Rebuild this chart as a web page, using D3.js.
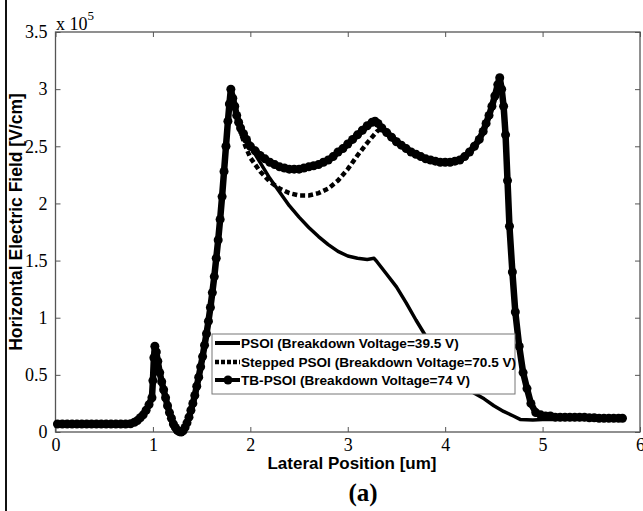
<!DOCTYPE html>
<html>
<head>
<meta charset="utf-8">
<script src="https://cdn.jsdelivr.net/npm/d3@7/dist/d3.min.js"></script>
<style>
  body { margin: 0; background: #fff; }
  svg { display: block; }
  .tick text { font-family: "Liberation Serif", "Times New Roman", serif; font-size: 18px; fill: #000; }
  .tick line { stroke: #555; }
</style>
</head>
<body>
<div id="chart"></div>
<script>
'use strict';

/* data, values in units of 1e5 V/cm */

var xTicks = [0, 1, 2, 3, 4, 5, 6];
var yTicks = [0, 0.5, 1, 1.5, 2, 2.5, 3, 3.5];

var seriesNames = [
  'PSOI (Breakdown Voltage=39.5 V)',
  'Stepped PSOI (Breakdown Voltage=70.5 V)',
  'TB-PSOI (Breakdown Voltage=74 V)'
];

// shared by all three devices up to the first big peak
var commonRise = [
  [0.02, 0.07], [0.07, 0.07], [0.12, 0.07], [0.17, 0.07], [0.22, 0.07], [0.27, 0.07],
  [0.32, 0.07], [0.37, 0.07], [0.42, 0.07], [0.47, 0.07], [0.52, 0.07], [0.57, 0.07],
  [0.62, 0.07], [0.67, 0.07], [0.72, 0.07], [0.77, 0.072], [0.81, 0.085], [0.84, 0.1],
  [0.87, 0.125], [0.9, 0.15], [0.93, 0.19], [0.96, 0.24], [0.99, 0.3], [1.0, 0.45],
  [1.01, 0.65], [1.02, 0.75], [1.035, 0.7], [1.05, 0.62], [1.07, 0.52], [1.09, 0.44],
  [1.11, 0.37], [1.13, 0.3], [1.15, 0.23], [1.17, 0.17], [1.19, 0.12], [1.21, 0.07],
  [1.23, 0.04], [1.25, 0.015], [1.27, 0.003], [1.29, 0.0], [1.31, 0.01], [1.33, 0.04],
  [1.35, 0.08], [1.37, 0.13], [1.39, 0.19], [1.41, 0.25], [1.43, 0.32], [1.45, 0.4],
  [1.47, 0.48], [1.49, 0.57], [1.51, 0.66], [1.53, 0.76], [1.55, 0.86], [1.57, 0.97],
  [1.59, 1.09], [1.61, 1.22], [1.63, 1.36], [1.65, 1.52], [1.67, 1.68], [1.69, 1.86],
  [1.71, 2.06], [1.73, 2.28], [1.75, 2.5], [1.77, 2.72], [1.785, 2.87], [1.8, 3.0]
];

var psoiTail = [
  [1.85, 2.8], [1.9, 2.66], [2.0, 2.5], [2.1, 2.36], [2.2, 2.22], [2.3, 2.1],
  [2.4, 1.98], [2.5, 1.88], [2.6, 1.79], [2.7, 1.71], [2.8, 1.64], [2.9, 1.58],
  [3.0, 1.54], [3.1, 1.52], [3.2, 1.51], [3.27, 1.52], [3.3, 1.49], [3.4, 1.38],
  [3.5, 1.27], [3.6, 1.13], [3.7, 0.98], [3.8, 0.84], [3.9, 0.7], [4.0, 0.58],
  [4.1, 0.47], [4.2, 0.39], [4.3, 0.34], [4.4, 0.29], [4.5, 0.23], [4.6, 0.18],
  [4.7, 0.14], [4.77, 0.11], [4.9, 0.105], [5.0, 0.11], [5.4, 0.11], [5.82, 0.11]
];

var steppedMid = [
  [1.85, 2.8], [1.9, 2.62], [1.95, 2.5], [2.0, 2.4], [2.1, 2.28], [2.2, 2.19],
  [2.3, 2.13], [2.4, 2.09], [2.5, 2.07], [2.6, 2.07], [2.7, 2.09], [2.8, 2.13],
  [2.9, 2.2], [3.0, 2.3], [3.1, 2.42], [3.2, 2.53], [3.3, 2.63]
];

var tbTail = [
  [1.82, 2.92], [1.84, 2.85], [1.86, 2.77], [1.88, 2.71], [1.9, 2.66], [1.93, 2.61],
  [1.96, 2.56], [2.0, 2.5], [2.05, 2.46], [2.1, 2.42], [2.15, 2.39], [2.2, 2.36],
  [2.25, 2.34], [2.3, 2.32], [2.35, 2.31], [2.4, 2.3], [2.45, 2.3], [2.5, 2.3],
  [2.55, 2.31], [2.6, 2.32], [2.65, 2.33], [2.7, 2.34], [2.75, 2.36], [2.8, 2.38],
  [2.85, 2.41], [2.9, 2.45], [2.95, 2.48], [3.0, 2.52], [3.05, 2.56], [3.1, 2.6],
  [3.15, 2.64], [3.2, 2.68], [3.25, 2.71], [3.28, 2.72], [3.31, 2.7], [3.35, 2.66],
  [3.4, 2.62], [3.45, 2.58], [3.5, 2.54], [3.55, 2.51], [3.6, 2.48], [3.65, 2.45],
  [3.7, 2.43], [3.75, 2.41], [3.8, 2.39], [3.85, 2.38], [3.9, 2.37], [3.95, 2.36],
  [4.0, 2.36], [4.05, 2.36], [4.1, 2.37], [4.15, 2.38], [4.2, 2.41], [4.25, 2.45],
  [4.3, 2.5], [4.35, 2.56], [4.39, 2.63], [4.42, 2.7], [4.45, 2.77], [4.48, 2.85],
  [4.51, 2.94], [4.54, 3.04], [4.56, 3.1], [4.58, 3.0], [4.6, 2.85], [4.62, 2.6],
  [4.64, 2.2], [4.66, 1.8], [4.69, 1.4], [4.72, 1.05], [4.76, 0.75], [4.8, 0.52],
  [4.84, 0.38], [4.88, 0.25], [4.93, 0.17], [4.98, 0.15], [5.03, 0.14], [5.08, 0.14],
  [5.13, 0.13], [5.18, 0.13], [5.23, 0.13], [5.28, 0.13], [5.33, 0.13], [5.38, 0.13],
  [5.43, 0.13], [5.48, 0.125], [5.53, 0.125], [5.58, 0.12], [5.63, 0.12], [5.68, 0.12],
  [5.73, 0.12], [5.78, 0.12], [5.82, 0.12]
];

var psoi = commonRise.concat(psoiTail);
var tb = commonRise.concat(tbTail);
// stepped device runs underneath the TB curve after its middle peak
var stepped = commonRise.concat(steppedMid, tbTail.filter(function(d) { return d[0] >= 3.35; }));

/* layout */

var width = 643, height = 511;
var plotL = 55.5, plotR = 640, plotT = 32, plotB = 432;

var svg = d3.select('#chart').append('svg')
  .attr('width', width)
  .attr('height', height);

var x = d3.scaleLinear().domain([0, 6]).range([plotL, plotR]);
var y = d3.scaleLinear().domain([0, 3.5]).range([plotB, plotT]);

// page edge line seen at the left of the figure
svg.append('line')
  .attr('x1', 6).attr('x2', 6).attr('y1', 0).attr('y2', height)
  .attr('stroke', '#111').attr('stroke-width', 2);

// axes, ticks pointing inward like matlab
svg.append('g')
  .attr('transform', 'translate(0,' + plotB + ')')
  .call(d3.axisBottom(x).tickValues(xTicks).tickSizeInner(-5).tickSizeOuter(0).tickPadding(6).tickFormat(d3.format('d')))
  .call(function(g) { g.select('.domain').remove(); });

svg.append('g')
  .attr('transform', 'translate(0,' + plotT + ')')
  .call(d3.axisTop(x).tickValues(xTicks).tickSizeInner(-5).tickSizeOuter(0).tickFormat(''))
  .call(function(g) { g.select('.domain').remove(); });

svg.append('g')
  .attr('transform', 'translate(' + plotL + ',0)')
  .call(d3.axisLeft(y).tickValues(yTicks).tickSizeInner(-5).tickSizeOuter(0).tickPadding(8).tickFormat(function(d) { return String(d); }))
  .call(function(g) { g.select('.domain').remove(); });

svg.append('g')
  .attr('transform', 'translate(' + plotR + ',0)')
  .call(d3.axisRight(y).tickValues(yTicks).tickSizeInner(-5).tickSizeOuter(0).tickFormat(''))
  .call(function(g) { g.select('.domain').remove(); });

svg.append('rect')
  .attr('x', plotL).attr('y', plotT)
  .attr('width', plotR - plotL).attr('height', plotB - plotT)
  .attr('fill', 'none').attr('stroke', '#555').attr('stroke-width', 1.3);

/* curves */

var line = d3.line()
  .x(function(d) { return x(d[0]); })
  .y(function(d) { return y(d[1]); });

svg.append('path').datum(psoi)
  .attr('d', line)
  .attr('fill', 'none').attr('stroke', '#000').attr('stroke-width', 3.5)
  .attr('stroke-linejoin', 'round');

svg.append('path').datum(stepped)
  .attr('d', line)
  .attr('fill', 'none').attr('stroke', '#000').attr('stroke-width', 4.5)
  .attr('stroke-dasharray', '5,3');

svg.append('path').datum(tb)
  .attr('d', line)
  .attr('fill', 'none').attr('stroke', '#000').attr('stroke-width', 6.5)
  .attr('stroke-linejoin', 'round');

svg.append('g').selectAll('circle')
  .data(tb)
  .enter().append('circle')
  .attr('cx', function(d) { return x(d[0]); })
  .attr('cy', function(d) { return y(d[1]); })
  .attr('r', 4.5)
  .attr('fill', '#000');

/* legend */

var lg = svg.append('g').attr('transform', 'translate(212,334)');
lg.append('rect')
  .attr('width', 303).attr('height', 60)
  .attr('fill', '#fff').attr('stroke', '#777').attr('stroke-width', 1);

var rowY = [9, 28, 46];
seriesNames.forEach(function(name, i) {
  var yy = rowY[i];
  var s = lg.append('line')
    .attr('x1', 3).attr('x2', 28).attr('y1', yy).attr('y2', yy)
    .attr('stroke', '#000');
  if (i === 0) s.attr('stroke-width', 4);
  if (i === 1) s.attr('stroke-width', 4.5).attr('stroke-dasharray', '4,2');
  if (i === 2) {
    s.attr('stroke-width', 4);
    lg.append('circle').attr('cx', 16).attr('cy', yy).attr('r', 4.5).attr('fill', '#000');
  }
  lg.append('text')
    .attr('x', 29).attr('y', yy + 5)
    .attr('font-family', '"Liberation Sans", Arial, sans-serif')
    .attr('font-weight', 'bold')
    .attr('font-size', '13.6px')
    .text(name);
});

/* labels */

var mult = svg.append('text')
  .attr('x', 56).attr('y', 30)
  .attr('font-family', '"Liberation Serif", "Times New Roman", serif')
  .attr('font-size', '18px');
mult.append('tspan').text('x 10');
mult.append('tspan').attr('dy', -10).attr('font-size', '13px').text('5');

svg.append('text')
  .attr('x', 352).attr('y', 469)
  .attr('text-anchor', 'middle')
  .attr('font-family', '"Liberation Sans", Arial, sans-serif')
  .attr('font-weight', 'bold')
  .attr('font-size', '17px')
  .text('Lateral Position [um]');

svg.append('text')
  .attr('transform', 'translate(22,222) rotate(-90)')
  .attr('text-anchor', 'middle')
  .attr('font-family', '"Liberation Sans", Arial, sans-serif')
  .attr('font-weight', 'bold')
  .attr('font-size', '17.5px')
  .text('Horizontal Electric Field [V/cm]');

svg.append('text')
  .attr('x', 363).attr('y', 501)
  .attr('text-anchor', 'middle')
  .attr('font-family', '"Liberation Serif", "Times New Roman", serif')
  .attr('font-weight', 'bold')
  .attr('font-size', '25px')
  .text('(a)');
</script>
</body>
</html>
